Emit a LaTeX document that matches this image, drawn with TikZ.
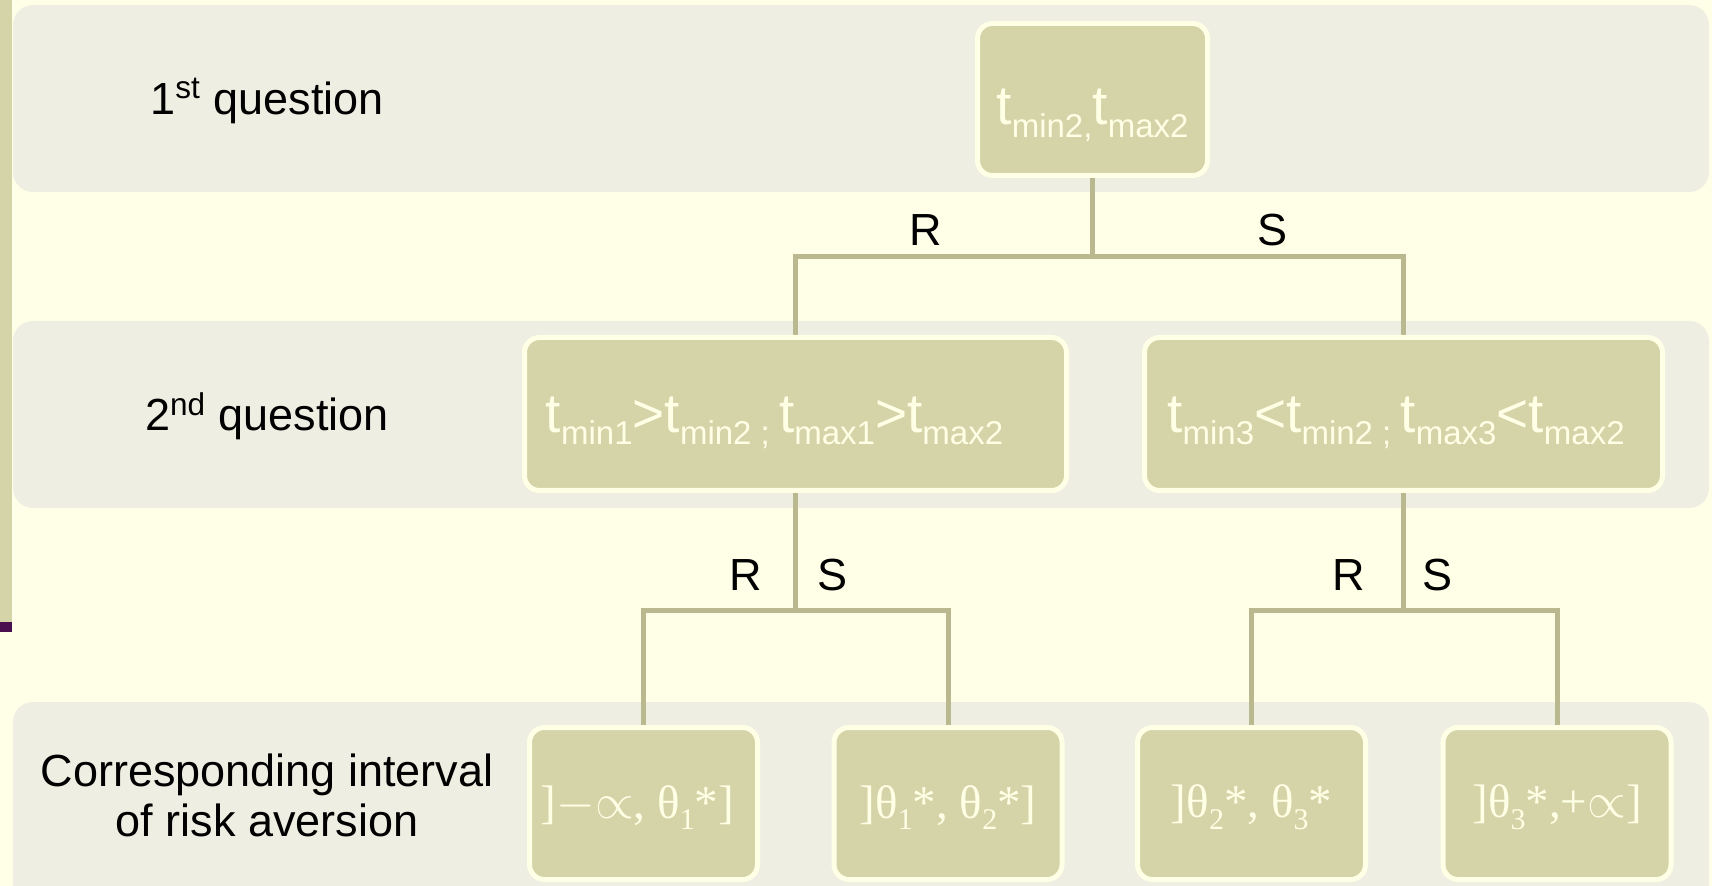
\documentclass[tikz,border=0pt]{standalone}
\usepackage{fontspec}
\setmainfont{Liberation Sans}
\newfontfamily\serifnode{Liberation Serif}
\usetikzlibrary{backgrounds}
\definecolor{pagebg}{HTML}{FFFFE8}
\definecolor{bandc}{HTML}{EEEEE3}
\definecolor{boxfill}{HTML}{D5D3A8}
\definecolor{boxline}{HTML}{FFFFE6}
\definecolor{connc}{HTML}{BAB88F}
\definecolor{barc}{HTML}{D5D3A8}
\definecolor{barp}{HTML}{4B0F4F}
\newcommand{\lo}[1]{\raisebox{-0.23em}{\fontsize{16.5}{18}\selectfont #1}}
\newcommand{\slo}[1]{\raisebox{-0.25em}{\fontsize{15}{16}\selectfont #1}}
\newcommand{\dn}[2]{\raisebox{-#1}[\height][\depth]{#2}}
\begin{document}
\begin{tikzpicture}[x=0.5pt,y=-0.5pt,
 qbox/.style={draw=boxline, line width=2.5pt, fill=boxfill, rounded corners=7.5pt, text=boxline, inner sep=0pt, font=\fontsize{27.5}{33}\selectfont},
 ibox/.style={qbox, minimum width=114pt, minimum height=76pt, font=\serifnode\fontsize{23.5}{28}\selectfont},
 conn/.style={draw=connc, line width=2.5pt},
 lab/.style={font=\fontsize{22.5}{25}\selectfont, text=black, align=center, inner sep=0pt},
 bandbox/.style={fill=bandc, rounded corners=10pt}]
\useasboundingbox (0,0) rectangle (1712,886);

% row labels
\node[lab] (q1) at (267,101) {1\textsuperscript{st} question};
\node[lab] (q2) at (267,416) {2\textsuperscript{nd} question};
\node[lab] (q3) at (267,795) {Corresponding interval\\of risk aversion};

% boxes
\node[qbox, minimum width=115pt, minimum height=76pt] (top) at (1092.5,99.5) {\dn{8pt}{t\lo{min2,}t\lo{max2}}};
\node[qbox, minimum width=271pt, minimum height=76.5pt] (l2a) at (795.5,414) {\dn{4.5pt}{t\lo{min1}>t\lo{min2 ; }t\lo{max1}>t\lo{max2}}\hspace*{21pt}};
\node[qbox, minimum width=259pt, minimum height=76.5pt] (l2b) at (1403.5,414) {\dn{4.5pt}{t\lo{min3}<t\lo{min2 ; }t\lo{max3}<t\lo{max2}}\hspace*{7.5pt}};
\node[ibox] (l3a) at (643.5,803.5) {\dn{2pt}{]$-$$\propto$, θ\slo{1}*]}\hspace*{6pt}};
\node[ibox] (l3b) at (948,803.5) {\dn{2pt}{]θ\slo{1}*, θ\slo{2}*]}};
\node[ibox] (l3c) at (1251.5,803.5) {\dn{2pt}{]θ\slo{2}*, θ\slo{3}*}};
\node[ibox] (l3d) at (1557,803.5) {\dn{2pt}{]θ\slo{3}*,+$\propto$]}};

% branch labels
\node[lab] (r1) at (926,230) {R};
\node[lab] (s1) at (1272,230) {S};
\node[lab] (r2) at (746,575) {R};
\node[lab] (s2) at (832,575) {S};
\node[lab] (r3) at (1349,575) {R};
\node[lab] (s3) at (1437,575) {S};

\coordinate (j1) at (1092.5,257);
\coordinate (j2) at (795.5,611);
\coordinate (j3) at (1403.5,611);

\begin{scope}[on background layer]
\fill[pagebg] (0,0) rectangle (1712,886);
\fill[barc] (0,0) rectangle (12,622);
\fill[barp] (0,622) rectangle (12,632);
\fill[bandbox] (13,5) rectangle (1709,192);
\fill[bandbox] (13,321) rectangle (1709,508);
\begin{scope}
\clip (0,0) rectangle (1712,886);
\fill[bandbox] (13,702) rectangle (1709,920);
\end{scope}
\draw[conn] (top.south) -- (j1);
\draw[conn] (l2a.north) |- (j1) -| (l2b.north);
\draw[conn] (l2a.south) -- (j2);
\draw[conn] (l3a.north) |- (j2) -| (l3b.north);
\draw[conn] (l2b.south) -- (j3);
\draw[conn] (l3c.north) |- (j3) -| (l3d.north);
\end{scope}
\end{tikzpicture}
\end{document}
